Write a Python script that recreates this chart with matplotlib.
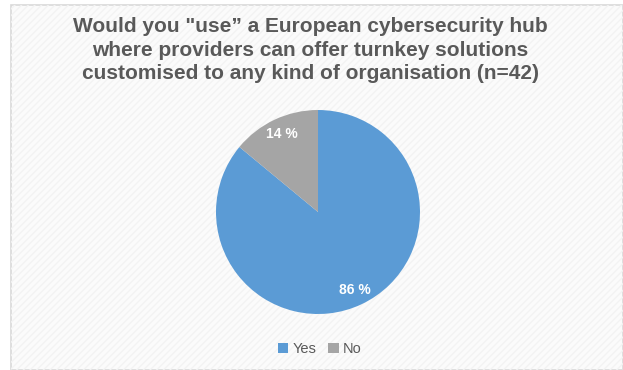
import matplotlib.pyplot as plt
from matplotlib.patches import Rectangle

categories = ["Yes", "No"]
shares = [86, 14]
colors = ["#5B9BD5", "#A5A5A5"]
title = ('Would you "use\u201d a European cybersecurity hub\n'
         'where providers can offer turnkey solutions\n'
         'customised to any kind of organisation (n=42)')

W, H = 623, 370
fig = plt.figure(figsize=(W / 100, H / 100), dpi=100)
fig.patch.set_facecolor("white")

# chart frame with a faint diagonal texture
frame = Rectangle((11 / W, 0), 1 - 11 / W, 1 - 5 / H, transform=fig.transFigure,
                  facecolor="#FBFBFB", edgecolor="#D9D9D9", linewidth=1.2,
                  zorder=0)
fig.patches.append(frame)
tex = Rectangle((11 / W, 0), 1 - 11 / W, 1 - 5 / H, transform=fig.transFigure,
                facecolor="none", edgecolor="#F3F3F3", hatch="/////",
                linewidth=0, zorder=0)
fig.patches.append(tex)

fig.text(310 / W, 1 - 50 / H, title, ha="center", va="center",
         fontsize=15, fontweight="bold", color="#595959",
         family="Liberation Sans", linespacing=1.32, zorder=3)

cx, cy, r = 318, 212, 102
ax = fig.add_axes([(cx - r) / W, (H - cy - r) / H, 2 * r / W, 2 * r / H])
ax.set_zorder(2)
ax.patch.set_visible(False)
wedges, texts, autotexts = ax.pie(
    shares, colors=colors, startangle=90, counterclock=False,
    autopct=lambda p: f"{p:.0f} %", pctdistance=0.84,
    wedgeprops=dict(linewidth=0),
    textprops=dict(color="white", fontsize=10, fontweight="bold",
                   family="Liberation Sans"))
ax.set_aspect("equal")
ax.set_xlim(-1, 1)
ax.set_ylim(-1, 1)

leg = fig.legend(wedges, categories, loc="center", bbox_to_anchor=(320 / W, 1 - 349 / H),
                 ncol=2, frameon=False, handlelength=0.7,
                 handleheight=0.7, handletextpad=0.3, columnspacing=0.8,
                 prop=dict(family="Liberation Sans", size=10.5))
leg.set_zorder(3)
for t in leg.get_texts():
    t.set_color("#595959")

fig.savefig("out.png", dpi=100)
